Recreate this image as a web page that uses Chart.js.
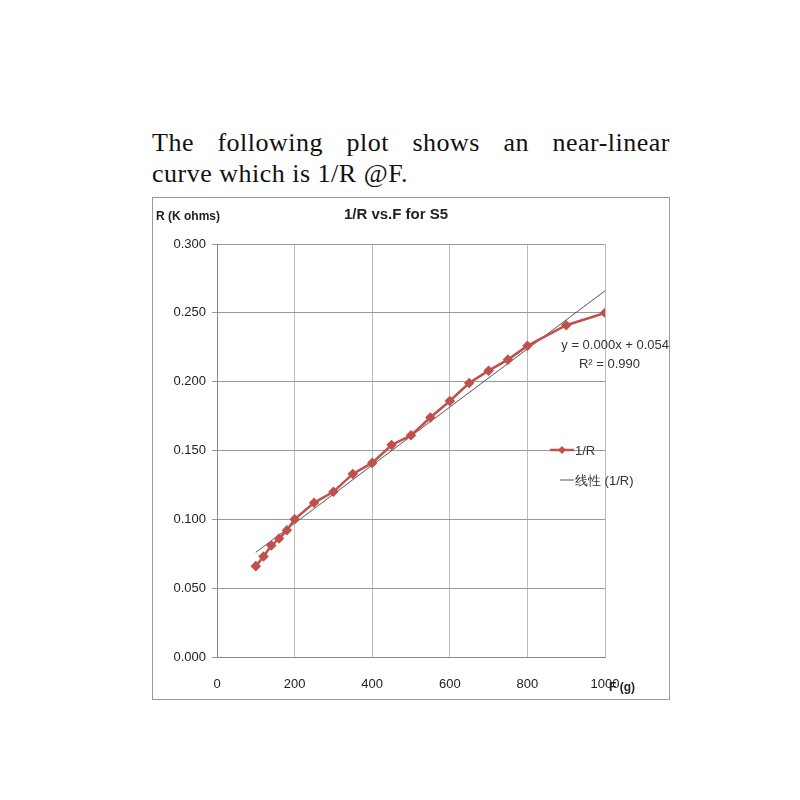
<!DOCTYPE html>
<html><head><meta charset="utf-8">
<script src="https://cdn.jsdelivr.net/npm/chart.js@4"></script>
<style>
body{margin:0;background:#fff;width:800px;height:800px;position:relative;}
#txt{position:absolute;left:152px;top:127px;width:518px;font-family:"Liberation Serif","DejaVu Serif",serif;font-size:26px;line-height:31px;color:#111;letter-spacing:0.5px;}
#txt .l1{text-align:justify;text-align-last:justify;}
#box{position:absolute;left:152px;top:197px;width:518px;height:503px;border:1px solid #999;box-sizing:border-box;}
canvas{display:block;}
</style></head><body>
<div id="txt"><div class="l1">The following plot shows an near-linear</div><div>curve which is 1/R @F.</div></div>
<div id="box"><canvas id="c" width="516" height="501"></canvas></div>
<script>
const forceX=[100,120,140,160,180,200,250,300,350,400,450,500,550,600,650,700,750,800,900,1000];
const invR=[0.066,0.073,0.081,0.086,0.092,0.100,0.112,0.120,0.133,0.141,0.154,0.161,0.174,0.186,0.199,0.208,0.216,0.226,0.241,0.250];
const trendX=[100,1000];
const trendY=[0.076,0.266];
const xTicks=[0,200,400,600,800,1000];
const yTicks=[0,0.05,0.1,0.15,0.2,0.25,0.3];
const F='"Liberation Sans","DejaVu Sans",sans-serif';
const deco={id:'deco',afterDraw(ch){const c=ch.ctx;c.save();c.fillStyle='#222';
c.font='bold 15px '+F;c.textAlign='center';c.fillText('1/R vs.F for S5',243,21);
c.font='bold 12px '+F;c.textAlign='left';c.fillText('R (K ohms)',3,22);
c.fillText('F (g)',456,493);
c.font='13px '+F;c.fillStyle='#333';c.textAlign='right';
c.fillText('y = 0.000x + 0.054',516,151);c.fillText('R² = 0.990',487,170);
c.textAlign='left';
c.strokeStyle='#c0504d';c.lineWidth=2.5;c.beginPath();c.moveTo(397,252);c.lineTo(421,252);c.stroke();
c.fillStyle='#c0504d';c.beginPath();c.moveTo(409,248);c.lineTo(413,252);c.lineTo(409,256);c.lineTo(405,252);c.closePath();c.fill();
c.fillStyle='#333';c.fillText('1/R',422,257);
c.strokeStyle='#555';c.lineWidth=1;c.beginPath();c.moveTo(407,282);c.lineTo(421,282);c.stroke();
c.fillText('线性 (1/R)',422,287);
c.restore();}};
new Chart(document.getElementById('c'),{type:'scatter',
data:{datasets:[
{label:'1/R',data:forceX.map((x,i)=>({x:x,y:invR[i]})),showLine:true,borderColor:'#c0504d',backgroundColor:'#c0504d',borderWidth:2.5,pointStyle:'rectRot',pointRadius:3.5,tension:0},
{label:'trend',data:trendX.map((x,i)=>({x:x,y:trendY[i]})),showLine:true,borderColor:'#555',borderWidth:1,pointRadius:0}
]},
options:{responsive:false,animation:false,
layout:{padding:{top:46,right:64,left:0,bottom:0}},
plugins:{legend:{display:false},tooltip:{enabled:false}},
scales:{
x:{min:0,max:1000,afterBuildTicks(s){s.ticks=xTicks.map(v=>({value:v}));},afterFit(s){s.height=42;},
grid:{color:'#bbb',drawTicks:false},border:{color:'#888'},
ticks:{padding:20,color:'#222',font:{family:F,size:13},callback:v=>String(v)}},
y:{min:0,max:0.3,afterBuildTicks(s){s.ticks=yTicks.map(v=>({value:v}));},afterFit(s){s.width=64;},
grid:{color:'#999',drawTicks:true,tickLength:5},border:{color:'#888'},
ticks:{padding:6,color:'#222',font:{family:F,size:13},callback:v=>v.toFixed(3)}}
}},plugins:[deco]});
</script></body></html>
